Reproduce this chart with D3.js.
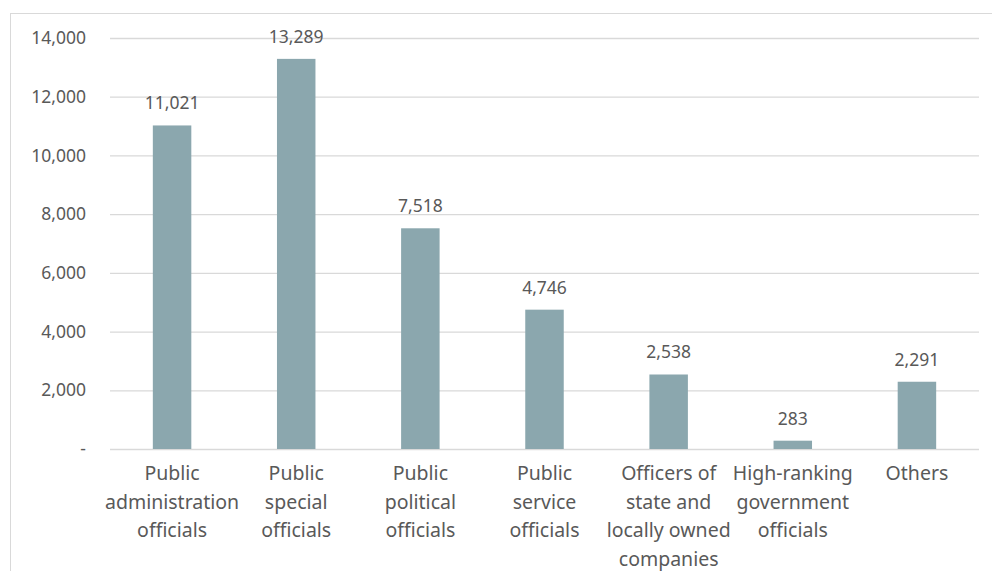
<!DOCTYPE html>
<html>
<head>
<meta charset="utf-8">
<script src="https://cdn.jsdelivr.net/npm/d3@7"></script>
<style>
  body { margin: 0; background: #fff; }
  svg text { font-family: "Noto Sans", sans-serif; fill: #595959; }
</style>
</head>
<body>
<div id="chart"></div>
<script>
const categories = [
    ['Public', 'administration', 'officials'],
    ['Public', 'special', 'officials'],
    ['Public', 'political', 'officials'],
    ['Public', 'service', 'officials'],
    ['Officers of', 'state and', 'locally owned', 'companies'],
    ['High-ranking', 'government', 'officials'],
    ['Others']
];
const values = [11021, 13289, 7518, 4746, 2538, 283, 2291];
const yTicks = [0, 2000, 4000, 6000, 8000, 10000, 12000, 14000];

const width = 992;
const height = 571;
const margin = { top: 38, right: 13, bottom: 122, left: 110 };

const svg = d3
    .select('#chart')
    .append('svg')
    .attr('width', width)
    .attr('height', height);

// outer frame, runs past the window edges like the original
svg.append('rect')
    .attr('x', 10.5)
    .attr('y', 13.5)
    .attr('width', width + 20)
    .attr('height', height + 20)
    .attr('fill', 'none')
    .attr('stroke', '#d9d9d9');

const x = d3
    .scaleBand()
    .domain(d3.range(values.length))
    .range([margin.left, width - margin.right])
    .paddingInner(0.69)
    .paddingOuter(0.345);

const y = d3
    .scaleLinear()
    .domain([0, 14000])
    .range([height - margin.bottom, margin.top]);

const fmt = d3.format(',');

const yAxis = svg.append('g')
    .attr('transform', 'translate(' + margin.left + ',0)')
    .call(d3.axisLeft(y)
        .tickValues(yTicks)
        .tickSize(-(width - margin.left - margin.right))
        .tickPadding(24)
        .tickFormat(function (d) { return d === 0 ? '-' : fmt(d); }));

yAxis.select('.domain').remove();
yAxis.selectAll('line').attr('stroke', '#d9d9d9').attr('stroke-width', 1.3);
yAxis.selectAll('text')
    .attr('font-size', 17.5)
    .style('font-family', '"Noto Sans", sans-serif')
    .attr('fill', '#595959');

svg.selectAll('rect.bar')
    .data(values)
    .enter()
    .append('rect')
    .attr('class', 'bar')
    .attr('x', function (d, i) { return x(i); })
    .attr('width', x.bandwidth())
    .attr('y', function (d) { return y(d); })
    .attr('height', function (d) { return y(0) - y(d); })
    .attr('fill', '#8ba7ae');

svg.selectAll('text.value')
    .data(values)
    .enter()
    .append('text')
    .attr('class', 'value')
    .attr('x', function (d, i) { return x(i) + x.bandwidth() / 2; })
    .attr('y', function (d) { return y(d) - 16; })
    .attr('text-anchor', 'middle')
    .attr('font-size', 17.5)
    .text(function (d) { return fmt(d); });

const catLabel = svg.selectAll('text.cat')
    .data(categories)
    .enter()
    .append('text')
    .attr('class', 'cat')
    .attr('text-anchor', 'middle')
    .attr('font-size', 19.5)
    .attr('transform', function (d, i) {
        return 'translate(' + (x(i) + x.bandwidth() / 2) + ',' + (y(0) + 31) + ')';
    });

catLabel.selectAll('tspan')
    .data(function (d) { return d; })
    .enter()
    .append('tspan')
    .attr('x', 0)
    .attr('dy', function (d, i) { return i === 0 ? 0 : 28.7; })
    .text(function (d) { return d; });
</script>
</body>
</html>
